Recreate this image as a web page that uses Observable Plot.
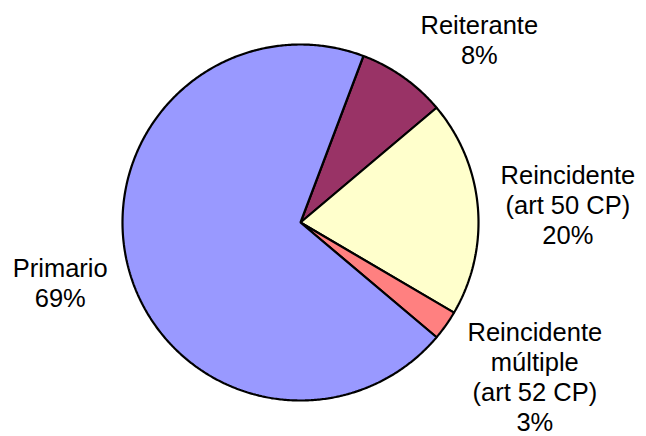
<!DOCTYPE html>
<html>
<head>
<meta charset="utf-8">
<script src="https://cdn.jsdelivr.net/npm/d3@7"></script>
<script src="https://cdn.jsdelivr.net/npm/@observablehq/plot@0.6"></script>
<style>
  html, body { margin: 0; padding: 0; background: #fff; }
  #chart svg { display: block; }
</style>
</head>
<body>
<div id="chart"></div>
<script>
// Data (clockwise from the first slice)
const categories = ["Reiterante", "Reincidente\n(art 50 CP)", "Reincidente\nmúltiple\n(art 52 CP)", "Primario"];
const values = [8.1, 19.6, 2.7, 69.6];
const percentLabels = ["8%", "20%", "3%", "69%"];
const colors = ["#993366", "#FFFFCC", "#FF8080", "#9999FF"];

// Layout
const W = 646, H = 436;
const startDeg = 20.7;          // angle of first slice (clockwise from 12 o'clock)
const rPx = 178;                // pie radius in pixels
const labelNudge = [[76, -38], [90, -3], [89, 51], [-68, 15]]; // px offsets from slice-edge midpoint

const total = d3.sum(values);
const slices = [];
let acc = startDeg;
values.forEach((v, i) => {
  const span = v / total * 360;
  slices.push({name: categories[i], pct: percentLabels[i], color: colors[i], a0: acc, a1: acc + span});
  acc += span;
});

const rad = a => a * Math.PI / 180;
const pts = [];
slices.forEach((s, i) => {
  pts.push({k: i, x: 0, y: 0, color: s.color});
  const n = Math.max(2, Math.ceil((s.a1 - s.a0) / 0.5));
  for (let j = 0; j <= n; j++) {
    const a = rad(s.a0 + (s.a1 - s.a0) * j / n);
    pts.push({k: i, x: Math.sin(a), y: Math.cos(a), color: s.color});
  }
});

const labels = slices.map((s, i) => {
  const m = rad((s.a0 + s.a1) / 2);
  return {
    text: s.name + "\n" + s.pct,
    x: Math.sin(m) + labelNudge[i][0] / rPx,
    y: Math.cos(m) - labelNudge[i][1] / rPx
  };
});

const plot = Plot.plot({
  width: W,
  height: H,
  marginLeft: 122,
  marginRight: W - 122 - 2 * rPx,
  marginTop: 44,
  marginBottom: H - 44 - 2 * rPx,
  x: {domain: [-1, 1], axis: null},
  y: {domain: [-1, 1], axis: null},
  color: {type: "identity"},
  style: {fontFamily: "'Liberation Sans', Arial, sans-serif", background: "#fff"},
  marks: [
    Plot.line(pts, {
      x: "x", y: "y", z: "k", fill: "color",
      stroke: "black", strokeWidth: 2.2,
      strokeLinejoin: "miter", curve: "linear-closed"
    }),
    Plot.text(labels, {
      x: "x", y: "y", text: "text",
      fontSize: 25.5, lineHeight: 1.18, fill: "black",
      fontFamily: "'Liberation Sans', Arial, sans-serif",
      textAnchor: "middle", lineAnchor: "middle"
    })
  ]
});
document.getElementById("chart").appendChild(plot);
</script>
</body>
</html>
